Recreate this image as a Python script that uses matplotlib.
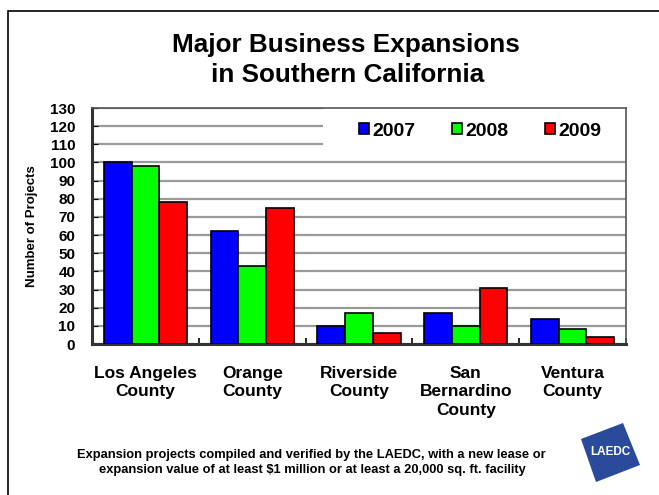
import matplotlib.pyplot as plt
import numpy as np
from matplotlib.patches import Rectangle, Polygon

plt.rcParams['font.family'] = ['Liberation Sans', 'DejaVu Sans']
plt.rcParams['font.weight'] = 'bold'

# Data
counties = ['Los Angeles\nCounty', 'Orange\nCounty', 'Riverside\nCounty',
            'San\nBernardino\nCounty', 'Ventura\nCounty']
years = ['2007', '2008', '2009']
projects_2007 = [100, 62, 10, 17, 14]
projects_2008 = [98, 43, 17, 10, 8]
projects_2009 = [78, 75, 6, 31, 4]
yticks = list(range(0, 140, 10))

series = [projects_2007, projects_2008, projects_2009]
colors = ['#0000ff', '#00ff00', '#ff0000']

W, H = 659, 495
fig = plt.figure(figsize=(W / 100, H / 100), dpi=100)
ax = fig.add_axes([92 / W, 1 - 344 / H, (626 - 92) / W, (344 - 108) / H])

x = np.arange(len(counties)) + 0.5
width = 0.26
for i, (vals, c, yr) in enumerate(zip(series, colors, years)):
    ax.bar(x + (i - 1) * width, vals, width, color=c, edgecolor='black',
           linewidth=1.2, label=yr, zorder=3)

ax.set_xlim(0, len(counties))
ax.set_ylim(0, 130)
ax.set_yticks(yticks)
ax.set_yticklabels([str(t) for t in yticks], fontsize=11, fontweight='bold')
ax.set_xticks(x)
ax.set_xticklabels(counties, fontsize=12.5, fontweight='bold', linespacing=1.3)
ax.set_xticks(np.arange(len(counties) + 1), minor=True)
ax.tick_params(axis='x', which='major', length=0, pad=15.5)
ax.tick_params(axis='x', which='minor', direction='in', length=4, width=1.2)
ax.tick_params(axis='y', direction='in', length=4, pad=12)
ax.yaxis.grid(True, color='#9a9a9a', linewidth=1.6, zorder=0)
ax.set_axisbelow(True)

for side in ['left', 'bottom']:
    ax.spines[side].set_linewidth(2.2)
    ax.spines[side].set_color('#333333')
for side in ['top', 'right']:
    ax.spines[side].set_linewidth(1.2)
    ax.spines[side].set_color('#555555')

ax.set_ylabel('Number of Projects', fontsize=9.5, fontweight='bold')
ax.yaxis.set_label_coords((38 - 92) / 534, 0.5)

# white box behind the legend hides the top gridlines
ax.add_patch(Rectangle((0.433, 0.81), 0.567, 0.19, transform=ax.transAxes,
                       facecolor='white', edgecolor='none', zorder=1))
ax.legend(ncol=3, loc='center', bbox_to_anchor=(0.727, 0.9025), frameon=False,
          handlelength=0.52, handleheight=0.55, handletextpad=0.15,
          columnspacing=1.9, borderpad=0, prop={'size': 14, 'weight': 'bold'})

# title, two lines
fig.text(346 / W, 1 - 52 / H, 'Major Business Expansions', ha='center', va='baseline',
         fontsize=18.8, fontweight='bold')
fig.text(348 / W, 1 - 82 / H, 'in Southern California', ha='center', va='baseline',
         fontsize=18.8, fontweight='bold')

fig.text(311 / W, 1 - 458 / H,
         'Expansion projects compiled and verified by the LAEDC, with a new lease or',
         ha='center', va='baseline', fontsize=9.3, fontweight='bold')
fig.text(312 / W, 1 - 473 / H,
         'expansion value of at least $1 million or at least a 20,000 sq. ft. facility',
         ha='center', va='baseline', fontsize=9.3, fontweight='bold')

# page frame
fig.add_artist(Rectangle((8 / W, -0.1), 1.2, 1 - 11 / H + 0.1, transform=fig.transFigure,
                         fill=False, edgecolor='black', linewidth=1.2))

# LAEDC logo
corners = [(581, 439), (623, 423), (640, 465), (596, 482)]
fig.add_artist(Polygon([(px / W, 1 - py / H) for px, py in corners],
                       closed=True, transform=fig.transFigure,
                       facecolor='#2a4a9c', edgecolor='none'))
fig.text(610 / W, 1 - 452 / H, 'LAEDC', ha='center', va='center', color='white',
         fontsize=8.5, fontweight='heavy')

fig.savefig('out.png', dpi=100)
